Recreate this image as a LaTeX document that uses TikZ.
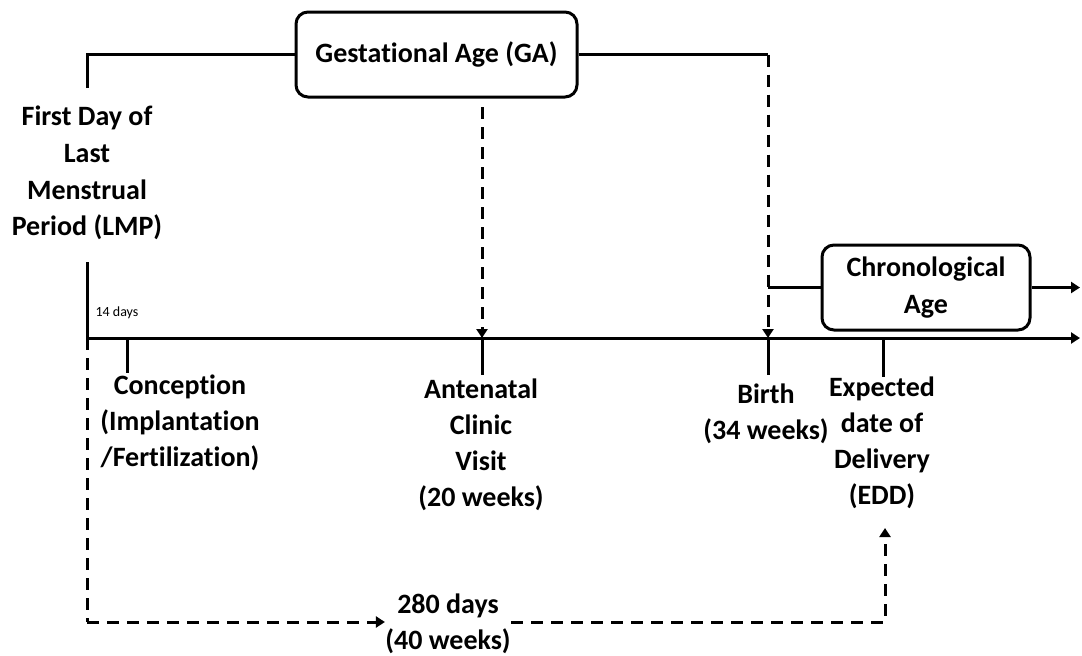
\documentclass[tikz,border=0pt]{standalone}
\usepackage{fontspec}
\setmainfont{Carlito}[Ligatures={NoCommon,NoContextual}]
\usetikzlibrary{arrows.meta}
\begin{document}
\begin{tikzpicture}[x=0.5pt, y=-0.5pt,
	rule/.style={line width=1.5pt},
	dash rule/.style={line width=1.5pt, dash pattern=on 6pt off 4pt},
	arrowed/.style={-{Triangle[length=4.5pt, width=5.5pt]}},
	age box/.style={draw, line width=1.5pt, rounded corners=6pt, minimum height=42.5pt,
	    font=\bfseries\fontsize{14}{18.5}\selectfont, align=center},
	txt/.style={font=\bfseries\fontsize{14}{18}\selectfont, align=center, inner sep=0pt}]
	\useasboundingbox (0,0) rectangle (1082,655);
	% boxes and labels
	\node[age box, minimum width=140.5pt] (ga) at (436.5,54.5) {Gestational Age (GA)};
	\node[age box, minimum width=104pt] (chron) at (926,287.5) {Chronological\\Age};
	\node[txt, font=\bfseries\fontsize{14}{18.3}\selectfont] (lmp) at (87,173) {First Day of\\Last\\Menstrual\\Period (LMP)};
	\node[txt, font=\fontsize{7}{8}\selectfont] (fourteen) at (117,313) {14 days};
	% points on the time line
	\coordinate (lmptop) at (87,88);
	\coordinate (lmpbot) at (87,262);
	\coordinate (axstart) at (87,338);
	\coordinate (conc) at (127,338);
	\coordinate (anc) at (482,338);
	\coordinate (birth) at (768,338);
	\coordinate (edd) at (883,338);
	\coordinate (axend) at (1080,338);
	\coordinate (ancup) at (482,107);
	\coordinate (chronend) at (1080,287.5);
	\coordinate (botleft) at (87,622);
	\coordinate (eddlow) at (885,528);
	\node[txt] (conctext) at (180,423) {Conception\\(Implantation\\/Fertilization)};
	\node[txt] (anctext) at (481,445) {Antenatal\\Clinic\\Visit\\(20 weeks)};
	\node[txt] (birthtext) at (766,414) {Birth\\(34 weeks)};
	\node[txt] (eddtext) at (882,443) {Expected\\date of\\Delivery\\(EDD)};
	\node[txt] (days) at (448,624) {280 days\\(40 weeks)};
	% time line and ticks
	\draw[rule, arrowed] (lmpbot) |- (axend);
	\draw[rule] (lmptop) |- (ga.west);
	\foreach \t/\len in {conc/35, anc/37, birth/37, edd/39}{
	    \draw[rule] (\t) -- ++(0,\len);
	}
	\draw[rule] (ga.east) -- (birth |- ga.east);
	\draw[dash rule, arrowed] (birth |- ga.east) -- (birth);
	\draw[dash rule, arrowed] (ancup) -- (anc);
	\draw[rule] (birth |- chron.west) -- (chron.west);
	\draw[rule, arrowed] (chron.east) -- (chronend);
	% 280 days
	\draw[dash rule] (axstart) -- (botleft);
	\draw[dash rule, arrowed] (botleft) -- (days.west |- botleft);
	\draw[dash rule, arrowed] (days.east |- botleft) -| (eddlow);
\end{tikzpicture}
\end{document}
